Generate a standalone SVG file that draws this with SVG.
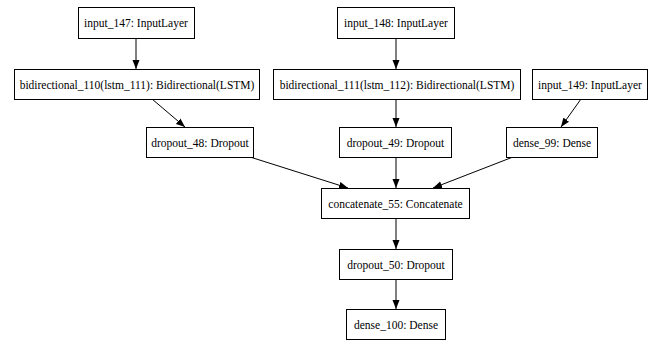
<svg xmlns="http://www.w3.org/2000/svg" width="652" height="341" viewBox="0 0 652 341">
<style>
.box{fill:#fff;stroke:#000;stroke-width:1}
.lbl{font-family:"Liberation Serif","Times New Roman",serif;font-size:11.5px;fill:#000;text-anchor:middle}
.edge{stroke:#000;stroke-width:1;fill:none;marker-end:url(#ah)}
</style>
<defs>
<marker id="ah" markerUnits="userSpaceOnUse" markerWidth="9" markerHeight="8" refX="9" refY="4" orient="auto">
<path d="M0,0.5 L9,4 L0,7.5 z" fill="#000"/>
</marker>
</defs>
<rect width="652" height="341" fill="#fff"/>
<g id="connectors">
<line class="edge" x1="136" y1="38" x2="136" y2="69"/>
<line class="edge" x1="396" y1="38" x2="396" y2="69"/>
<line class="edge" x1="152" y1="99" x2="185" y2="127"/>
<line class="edge" x1="396" y1="99" x2="396" y2="127"/>
<line class="edge" x1="581" y1="99" x2="561" y2="127"/>
<line class="edge" x1="250" y1="157" x2="348" y2="188"/>
<line class="edge" x1="396" y1="157" x2="396" y2="188"/>
<line class="edge" x1="513" y1="157" x2="433" y2="188"/>
<line class="edge" x1="396" y1="218" x2="396" y2="249"/>
<line class="edge" x1="396" y1="279" x2="396" y2="309"/>
</g>
<g id="input_147"><rect class="box" x="78.5" y="7.5" width="116" height="31"/><text class="lbl" x="136" y="27">input_147: InputLayer</text></g>
<g id="input_148"><rect class="box" x="337.5" y="7.5" width="117" height="31"/><text class="lbl" x="396" y="27">input_148: InputLayer</text></g>
<g id="bidirectional_110"><rect class="box" x="14.5" y="69.5" width="245" height="30"/><text class="lbl" x="137" y="89">bidirectional_110(lstm_111): Bidirectional(LSTM)</text></g>
<g id="bidirectional_111"><rect class="box" x="273.5" y="69.5" width="247" height="30"/><text class="lbl" x="397" y="89">bidirectional_111(lstm_112): Bidirectional(LSTM)</text></g>
<g id="input_149"><rect class="box" x="532.5" y="69.5" width="115" height="30"/><text class="lbl" x="590" y="89">input_149: InputLayer</text></g>
<g id="dropout_48"><rect class="box" x="146.5" y="127.5" width="107" height="30"/><text class="lbl" x="200" y="147">dropout_48: Dropout</text></g>
<g id="dropout_49"><rect class="box" x="339.5" y="127.5" width="112" height="30"/><text class="lbl" x="395.5" y="147">dropout_49: Dropout</text></g>
<g id="dense_99"><rect class="box" x="506.5" y="127.5" width="91" height="30"/><text class="lbl" x="552" y="147">dense_99: Dense</text></g>
<g id="concatenate_55"><rect class="box" x="321.5" y="188.5" width="148" height="30"/><text class="lbl" x="395.5" y="208">concatenate_55: Concatenate</text></g>
<g id="dropout_50"><rect class="box" x="339.5" y="249.5" width="113" height="30"/><text class="lbl" x="396" y="269">dropout_50: Dropout</text></g>
<g id="dense_100"><rect class="box" x="346.5" y="309.5" width="99" height="30"/><text class="lbl" x="396" y="329">dense_100: Dense</text></g>
</svg>
